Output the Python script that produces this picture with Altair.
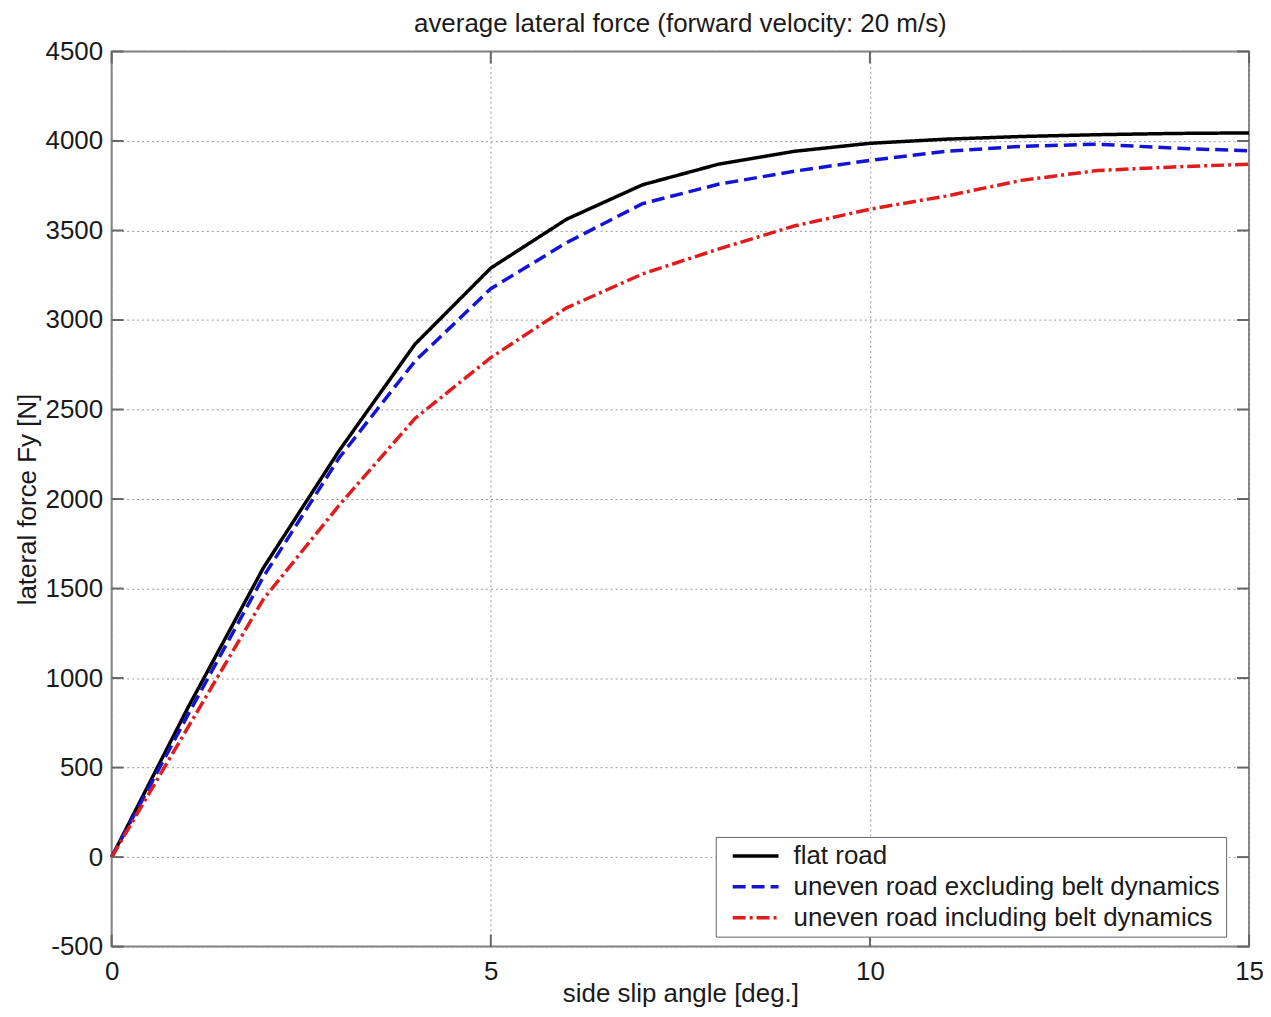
import altair as alt
import pandas as pd

# ---- data ----
angles = list(range(16))
flat_road = [0, 830, 1615, 2270, 2865, 3290, 3563, 3755, 3870, 3942, 3987, 4010, 4025, 4035, 4042, 4045]
uneven_excl = [0, 790, 1565, 2230, 2770, 3175, 3432, 3650, 3758, 3831, 3892, 3942, 3970, 3982, 3960, 3945]
uneven_incl = [0, 720, 1440, 1965, 2450, 2790, 3068, 3257, 3396, 3525, 3619, 3692, 3780, 3835, 3855, 3870]

series_names = ["flat road", "uneven road excluding belt dynamics", "uneven road including belt dynamics"]
series_colors = ["#000000", "#1414d4", "#e01c1c"]
series_dashes = [[1, 0], [13, 6], [13, 4, 3, 4]]

x_ticks = [0, 5, 10, 15]
y_ticks = [-500, 0, 500, 1000, 1500, 2000, 2500, 3000, 3500, 4000, 4500]

FONT = "Liberation Sans"
W, H = 1141, 898
X0, X1 = 0, 15
Y0, Y1 = -500, 4500
TICK_PX = 12

rows = []
for name, vals in zip(series_names, [flat_road, uneven_excl, uneven_incl]):
    for a, v in zip(angles, vals):
        rows.append({"angle": a, "force": v, "series": name})
df = pd.DataFrame(rows)

tx = (X1 - X0) * TICK_PX / W
ty = (Y1 - Y0) * TICK_PX / H
ytick_df = pd.DataFrame(
    [{"xa": X0, "xb": X0 + tx, "y": v} for v in y_ticks]
    + [{"xa": X1 - tx, "xb": X1, "y": v} for v in y_ticks]
)
xtick_df = pd.DataFrame(
    [{"x": v, "ya": Y0, "yb": Y0 + ty} for v in x_ticks]
    + [{"x": v, "ya": Y1 - ty, "yb": Y1} for v in x_ticks]
)

xscale = alt.Scale(domain=[X0, X1], nice=False, zero=False)
yscale = alt.Scale(domain=[Y0, Y1], nice=False, zero=False)
xaxis = alt.Axis(values=x_ticks, title="side slip angle [deg.]", labelExpr="'' + datum.value")
yaxis = alt.Axis(values=y_ticks, title="lateral force Fy [N]", labelExpr="'' + datum.value")

legend = alt.Legend(
    title=None,
    orient="none",
    legendX=606,
    legendY=788,
    fillColor="white",
    strokeColor="#666666",
    padding=6,
    labelFont=FONT,
    labelFontSize=26,
    labelColor="#1a1a1a",
    labelLimit=800,
    symbolType="M-0.2,0H4.4",
    symbolSize=400,
    symbolStrokeWidth=3.5,
    rowPadding=5,
    labelOffset=46,
)

lines = alt.Chart(df).mark_line(strokeWidth=3.5).encode(
    x=alt.X("angle:Q", scale=xscale, axis=xaxis),
    y=alt.Y("force:Q", scale=yscale, axis=yaxis),
    color=alt.Color("series:N", scale=alt.Scale(domain=series_names, range=series_colors), legend=legend),
    strokeDash=alt.StrokeDash("series:N", scale=alt.Scale(domain=series_names, range=series_dashes), legend=legend),
)

yticks = alt.Chart(ytick_df).mark_rule(color="#666666", strokeWidth=2).encode(
    x=alt.X("xa:Q", scale=xscale, axis=xaxis),
    x2="xb:Q",
    y=alt.Y("y:Q", scale=yscale, axis=yaxis),
)
xticks = alt.Chart(xtick_df).mark_rule(color="#666666", strokeWidth=2).encode(
    x=alt.X("x:Q", scale=xscale, axis=xaxis),
    y=alt.Y("ya:Q", scale=yscale, axis=yaxis),
    y2="yb:Q",
)

chart = (
    alt.layer(lines, yticks, xticks)
    .properties(
        width=W,
        height=H,
        title=alt.TitleParams("average lateral force (forward velocity: 20 m/s)", anchor="middle", offset=2),
        autosize=alt.AutoSizeParams(type="none"),
        padding={"left": 104, "top": 42, "right": 14, "bottom": 60},
    )
    .configure_view(stroke="#808080", strokeWidth=2)
    .configure_axis(
        labelFont=FONT,
        labelFontSize=26,
        labelColor="#1a1a1a",
        titleFont=FONT,
        titleFontSize=26,
        titleFontWeight="normal",
        titleColor="#1a1a1a",
        ticks=False,
        domain=False,
        grid=True,
        gridColor="#9a9a9a",
        gridDash=[2, 3],
        gridWidth=1,
        labelFlush=False,
        labelOverlap=False,
    )
    .configure_axisX(labelPadding=12, titleY=55, titleBaseline="alphabetic")
    .configure_axisY(labelPadding=9, titlePadding=5)
    .configure_title(font=FONT, fontSize=26, fontWeight="normal", color="#1a1a1a")
)

chart.save("out.html", embed_options={"renderer": "svg", "actions": False})
